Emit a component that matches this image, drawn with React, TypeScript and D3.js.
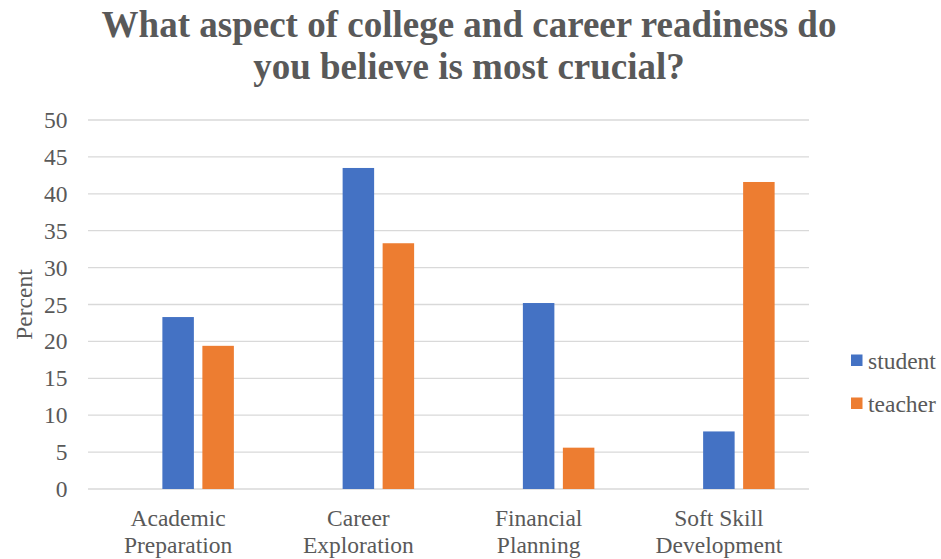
import React from "react";
import * as d3 from "d3";

const categories = [
  ["Academic", "Preparation"],
  ["Career", "Exploration"],
  ["Financial", "Planning"],
  ["Soft Skill", "Development"],
];
const seriesNames = ["student", "teacher"];
const studentValues = [23.3, 43.5, 25.2, 7.8];
const teacherValues = [19.4, 33.3, 5.6, 41.6];
const yTicks = [0, 5, 10, 15, 20, 25, 30, 35, 40, 45, 50];
const colors = ["#4472C4", "#ED7D31"];

const W = 941;
const H = 559;
const left = 88;
const right = 809;
const top = 120;
const bottom = 489;
const font = '"Liberation Serif", "Times New Roman", serif';
const textColor = "#595959";
const ts = { fontFamily: font };

export default function App() {
  const catKeys = categories.map((c) => c.join(" "));
  const x0 = d3
    .scaleBand<string>()
    .domain(catKeys)
    .range([left, right])
    .paddingInner(0.3814)
    .paddingOuter(0.1907);
  const x1 = d3
    .scaleBand<string>()
    .domain(["_blank", ...seriesNames])
    .range([0, x0.bandwidth()])
    .paddingInner(0.2125)
    .paddingOuter(0);
  const y = d3.scaleLinear().domain([0, 50]).range([bottom, top]);
  const seriesValues = [studentValues, teacherValues];
  const cx = (k: string) => (x0(k) as number) + x0.bandwidth() / 2;

  return (
    <svg
      width={W}
      height={H}
      style={{ position: "absolute", left: 0, top: 0, background: "#fff", fontFamily: font }}
    >
      <rect x={0} y={0} width={W} height={H} fill="#fff" />
      <text x={469} y={37} textAnchor="middle" fontSize={37} fontWeight="bold" fill={textColor} style={ts}>
        What aspect of college and career readiness do
      </text>
      <text x={469} y={79} textAnchor="middle" fontSize={37} fontWeight="bold" fill={textColor} style={ts}>
        you believe is most crucial?
      </text>
      {yTicks.map((t) => (
        <g key={t}>
          <line x1={left} x2={right} y1={y(t)} y2={y(t)} stroke="#d9d9d9" strokeWidth={1.3} />
          <text x={67.5} y={y(t) + 8} textAnchor="end" fontSize={23.5} fill={textColor} style={ts}>
            {t}
          </text>
        </g>
      ))}
      <text
        transform={`translate(32,${(top + bottom) / 2}) rotate(-90)`}
        textAnchor="middle"
        fontSize={23.5}
        fill={textColor}
        style={ts}
      >
        Percent
      </text>
      {catKeys.map((k, ci) => (
        <g key={k}>
          {seriesNames.map((s, si) => {
            const v = seriesValues[si][ci];
            return (
              <rect
                key={s}
                x={(x0(k) as number) + (x1(s) as number)}
                y={y(v)}
                width={x1.bandwidth()}
                height={y(0) - y(v)}
                fill={colors[si]}
              />
            );
          })}
          <text y={525.5} textAnchor="middle" fontSize={23.5} fill={textColor} style={ts}>
            <tspan x={cx(k)}>{categories[ci][0]}</tspan>
            <tspan x={cx(k)} dy={27}>
              {categories[ci][1]}
            </tspan>
          </text>
        </g>
      ))}
      {seriesNames.map((s, si) => (
        <g key={s} transform={`translate(851,${354.5 + si * 43})`}>
          <rect x={0} y={0} width={11.5} height={11.5} fill={colors[si]} />
          <text x={17} y={14} fontSize={23.5} fill={textColor} style={ts}>
            {s}
          </text>
        </g>
      ))}
    </svg>
  );
}
